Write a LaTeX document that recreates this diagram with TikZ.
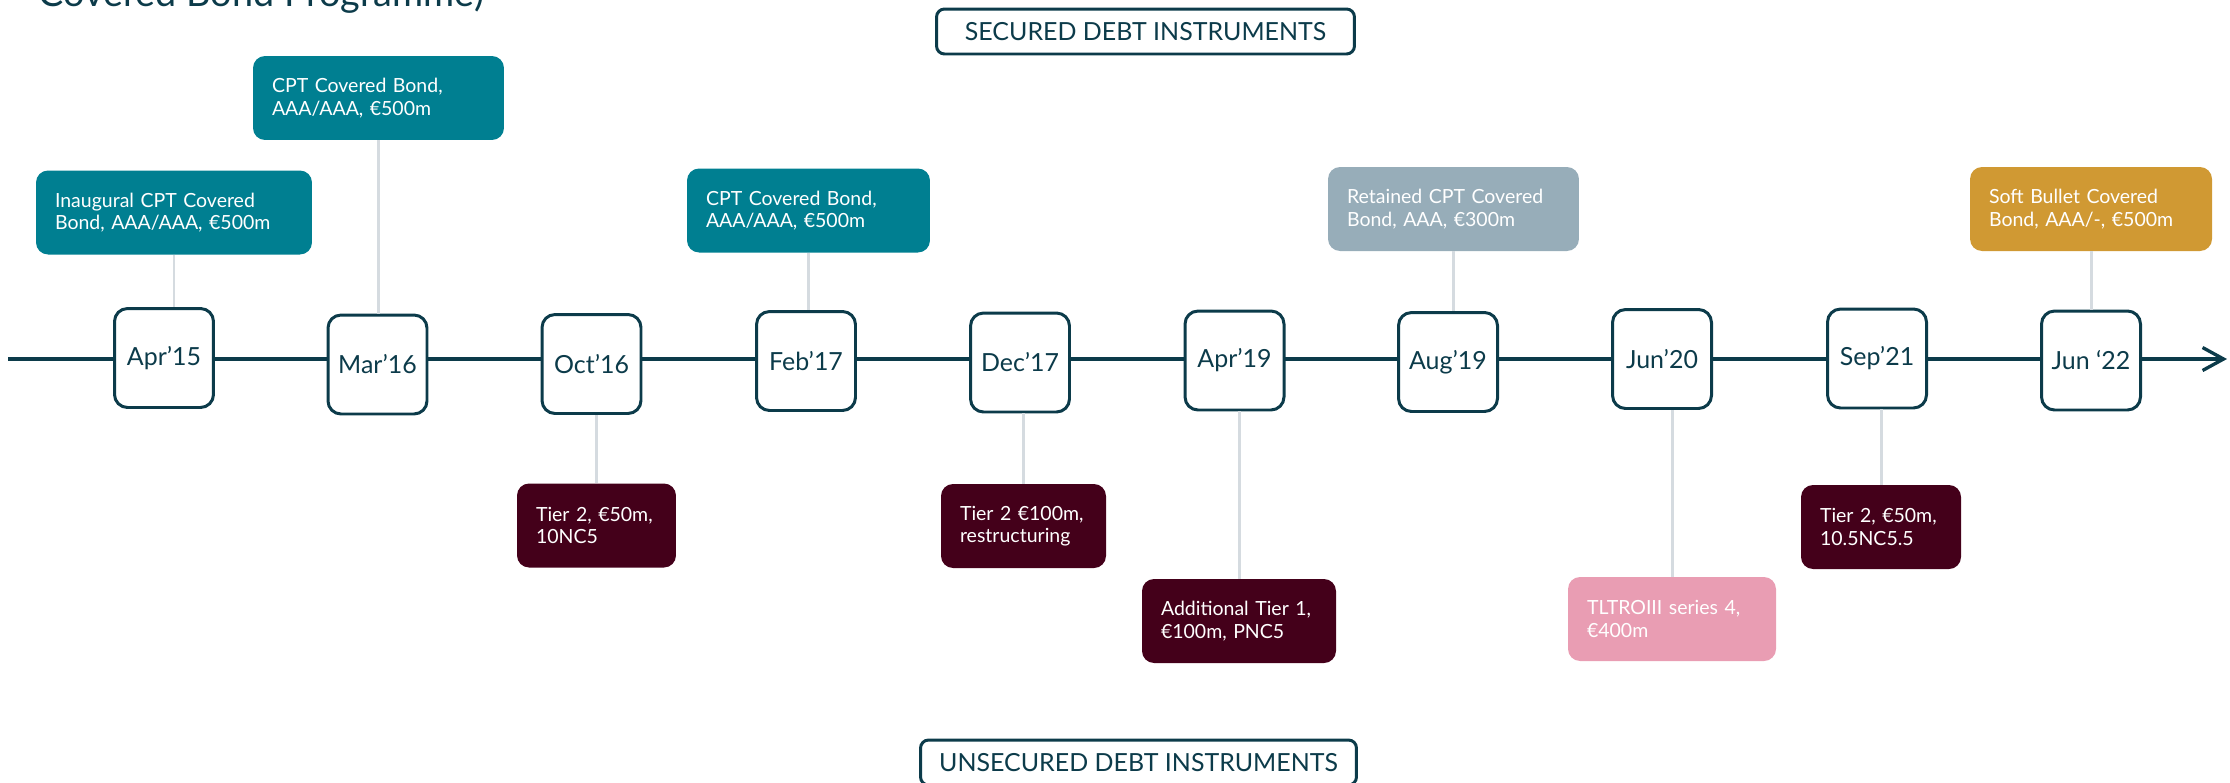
\documentclass[tikz,border=0pt]{standalone}
\usepackage{fontspec}
\setmainfont{Lato}
\usetikzlibrary{arrows.meta}

\definecolor{darkline}{HTML}{0C3B4A}
\definecolor{cptteal}{HTML}{007F91}
\definecolor{retgray}{HTML}{97ADB9}
\definecolor{softgold}{HTML}{D09933}
\definecolor{tiermaroon}{HTML}{44001A}
\definecolor{tltropink}{HTML}{E99DB3}
\definecolor{linkgray}{HTML}{D5DBE0}

\begin{document}
\begin{tikzpicture}[x=0.02cm, y=-0.02cm,
  every node/.style={align=left},
  datebox/.style={rectangle, draw=darkline, line width=1.7pt, rounded corners=0.26cm, fill=white, text=darkline, align=center, minimum width=1.98cm, minimum height=1.98cm, font=\fontsize{14.2}{17}\selectfont},
  deal/.style={rectangle, rounded corners=0.24cm, text=white, inner xsep=0.38cm, minimum height=1.68cm, font=\fontsize{11.1}{12.7}\selectfont},
  header/.style={rectangle, draw=darkline, line width=1.7pt, rounded corners=0.16cm, fill=white, text=darkline, align=center, minimum height=0.9cm, font=\fontsize{14.2}{17}\selectfont},
  link/.style={draw=linkgray, line width=1.7pt},
  timeline/.style={draw=darkline, line width=1.9pt, -{Straight Barb[length=0.42cm, width=0.46cm]}}
]
\useasboundingbox (0,0) rectangle (2230,782);

% Title (cut off at the top)
\node[anchor=base west, inner sep=0pt, text=darkline, font=\fontsize{21.5}{25}\selectfont] (title) at (38,6) {Covered Bond Programme)};

% Section headers
\node[header, minimum width=8.36cm] (secured) at (1145.5,31.5) {SECURED DEBT INSTRUMENTS};
\node[header, minimum width=8.72cm] (unsecured) at (1138.5,762.5) {UNSECURED DEBT INSTRUMENTS};

% Time axis
\coordinate (axstart) at (8,359);
\coordinate (axend) at (2227,359);
\draw[timeline] (axstart) -- (axend);

% Dates
\node[datebox] (d1) at (164,358) {Apr’15};
\node[datebox] (d2) at (377.5,364.5) {Mar’16};
\node[datebox] (d3) at (591.5,364) {Oct’16};
\node[datebox] (d4) at (806,361) {Feb’17};
\node[datebox] (d5) at (1020,362.5) {Dec’17};
\node[datebox] (d6) at (1234.5,360.5) {Apr’19};
\node[datebox] (d7) at (1448,362) {Aug’19};
\node[datebox] (d8) at (1662,359) {Jun’20};
\node[datebox] (d9) at (1877,358.5) {Sep’21};
\node[datebox] (d10) at (2091,360.5) {Jun ‘22};

% Secured issues
\node[deal, fill=cptteal, text width=4.76cm] (s1) at (174,212.5) {Inaugural CPT Covered\\Bond, AAA/AAA, €500m};
\node[deal, fill=cptteal, text width=4.26cm] (s2) at (378.5,98) {CPT Covered Bond,\\AAA/AAA, €500m};
\node[deal, fill=cptteal, text width=4.10cm] (s3) at (808.5,210.5) {CPT Covered Bond,\\AAA/AAA, €500m};
\node[deal, fill=retgray, text width=4.26cm] (s4) at (1453.5,209) {Retained CPT Covered\\Bond, AAA, €300m};
\node[deal, fill=softgold, text width=4.08cm] (s5) at (2091,209) {Soft Bullet Covered\\Bond, AAA/-, €500m};

% Unsecured issues
\node[deal, fill=tiermaroon, text width=2.42cm] (u1) at (596.5,525.5) {Tier 2, €50m,\\10NC5};
\node[deal, fill=tiermaroon, text width=2.54cm] (u2) at (1023.5,526) {Tier 2 €100m,\\restructuring};
\node[deal, fill=tiermaroon, text width=3.12cm] (u3) at (1239,621) {Additional Tier 1,\\€100m, PNC5};
\node[deal, fill=tltropink, text width=3.40cm] (u4) at (1672,619) {TLTROIII series 4,\\€400m};
\node[deal, fill=tiermaroon, text width=2.44cm] (u5) at (1881,527) {Tier 2, €50m,\\10.5NC5.5};

% Links to the dates
\draw[link] (s1.south) -- (s1.south |- d1.north);
\draw[link] (s2.south) -- (s2.south |- d2.north);
\draw[link] (s3.south) -- (s3.south |- d4.north);
\draw[link] (s4.south) -- (s4.south |- d7.north);
\draw[link] (s5.south) -- (s5.south |- d10.north);
\draw[link] (u1.north) -- (u1.north |- d3.south);
\draw[link] (u2.north) -- (u2.north |- d5.south);
\draw[link] (u3.north) -- (u3.north |- d6.south);
\draw[link] (u4.north) -- (u4.north |- d8.south);
\draw[link] (u5.north) -- (u5.north |- d9.south);

\end{tikzpicture}
\end{document}
